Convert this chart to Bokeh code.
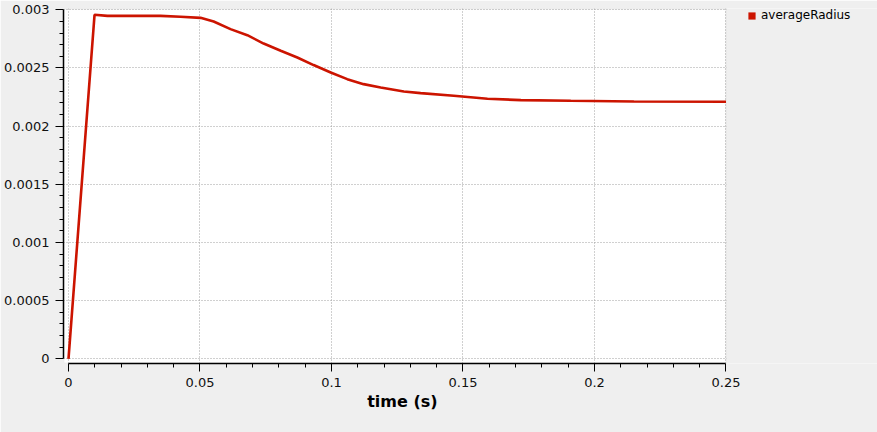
from bokeh.plotting import figure
from bokeh.models import (FixedTicker, Range1d, Legend, LegendItem,
                          BoxAnnotation, Title)
from bokeh.embed import file_html
from bokeh.resources import INLINE

# ---- data ----
time_s = [0.0, 0.0099, 0.0148, 0.035, 0.0426, 0.0502, 0.0552, 0.0616, 0.068,
          0.0742, 0.0807, 0.087, 0.0932, 0.0997, 0.106, 0.1122, 0.1187, 0.1275,
          0.1339, 0.1465, 0.1593, 0.172, 0.191, 0.215, 0.25]
average_radius = [0.0, 0.002957, 0.002948, 0.002948, 0.00294, 0.002931, 0.002899,
                  0.002834, 0.002782, 0.00271, 0.002648, 0.00259, 0.002525, 0.002461,
                  0.002404, 0.002361, 0.002332, 0.002298, 0.002284, 0.002261,
                  0.002235, 0.002224, 0.002218, 0.002212, 0.002209]

x_ticks = [0.0, 0.05, 0.1, 0.15, 0.2, 0.25]
x_tick_labels = ["0", "0.05", "0.1", "0.15", "0.2", "0.25"]
y_ticks = [0.0, 0.0005, 0.001, 0.0015, 0.002, 0.0025, 0.003]
y_tick_labels = ["0", "0.0005", "0.001", "0.0015", "0.002", "0.0025", "0.003"]
series_name = "averageRadius"
x_title = "time (s)"

FONT = "DejaVu Sans"
RED = "#cc1400"
BG = "#efefef"
GRID = "#a0a0a0"
X_START, X_END = -0.0019, 0.30761      # frame also holds the legend strip
Y_START, Y_END = -0.0000404, 0.0030112
PLOT_X_END = 0.25019                   # right edge of the white plot area


def minors(ticks, n=5):
    step = (ticks[1] - ticks[0]) / n
    out = []
    for t in ticks[:-1]:
        for k in range(1, n):
            out.append(t + k * step)
    return out


p = figure(width=877, height=432, output_backend="svg", toolbar_location=None,
           x_range=Range1d(X_START, X_END), y_range=Range1d(Y_START, Y_END),
           min_border_left=63, min_border_right=0, min_border_top=8,
           min_border_bottom=69, background_fill_color="white",
           border_fill_color=BG, outline_line_color=None)

# border of the white plot area
p.add_layout(BoxAnnotation(right=PLOT_X_END, fill_alpha=0, line_color=GRID,
                           line_width=1.5, level="underlay"))

line = p.line(time_s, average_radius, line_color=RED, line_width=2.6)
# hidden renderer that only supplies the square legend swatch
swatch = p.quad(left=time_s, right=time_s, bottom=average_radius,
                top=average_radius, fill_color=RED, line_color=None,
                visible=False)

xt = FixedTicker(ticks=x_ticks, minor_ticks=minors(x_ticks))
yt = FixedTicker(ticks=y_ticks, minor_ticks=minors(y_ticks))
p.xaxis.ticker = xt
p.yaxis.ticker = yt
p.xgrid.ticker = xt
p.ygrid.ticker = yt
p.xaxis.major_label_overrides = dict(zip(x_ticks, x_tick_labels))
p.yaxis.major_label_overrides = dict(zip(y_ticks, y_tick_labels))

for ax in (p.xaxis[0], p.yaxis[0]):
    ax.axis_line_color = "black"
    ax.axis_line_width = 1.5
    ax.major_tick_line_color = "black"
    ax.minor_tick_line_color = "black"
    ax.major_tick_in = 0
    ax.major_tick_out = 8
    ax.minor_tick_in = 0
    ax.minor_tick_out = 4
    ax.major_label_text_font = FONT
    ax.major_label_text_font_size = "13px"
    ax.major_label_text_color = "#111111"

p.xaxis.bounds = (0, 0.25)
p.yaxis.bounds = (0, 0.003)
p.yaxis.major_label_standoff = 6
p.xaxis.major_label_standoff = 6

# x-axis title, centred under the plot area (not under the legend strip)
p.add_layout(Title(text=x_title, align="left", offset=303.7, standoff=0,
                   text_font=FONT, text_font_size="16px",
                   text_font_style="bold", text_color="black"), "below")

for g in (p.xgrid[0], p.ygrid[0]):
    g.grid_line_color = GRID
    g.grid_line_dash = "1 2"
    g.grid_line_width = 1

# grey strip right of the plot area that holds the legend
p.add_layout(BoxAnnotation(left=PLOT_X_END, bottom=Y_START - 0.000026,
                           top=Y_END + 0.000017, fill_color=BG, fill_alpha=1,
                           line_color=None, level="annotation"))

legend = Legend(items=[LegendItem(label=series_name, renderers=[swatch])],
                location=(684, 341), margin=0, padding=0,
                glyph_width=9, glyph_height=9, label_height=9,
                label_standoff=5, border_line_alpha=0,
                background_fill_alpha=0, inactive_fill_alpha=0,
                label_text_font=FONT, label_text_font_size="12px",
                label_text_color="black")
p.add_layout(legend, "center")

open("out.html", "w").write(file_html(p, INLINE))
